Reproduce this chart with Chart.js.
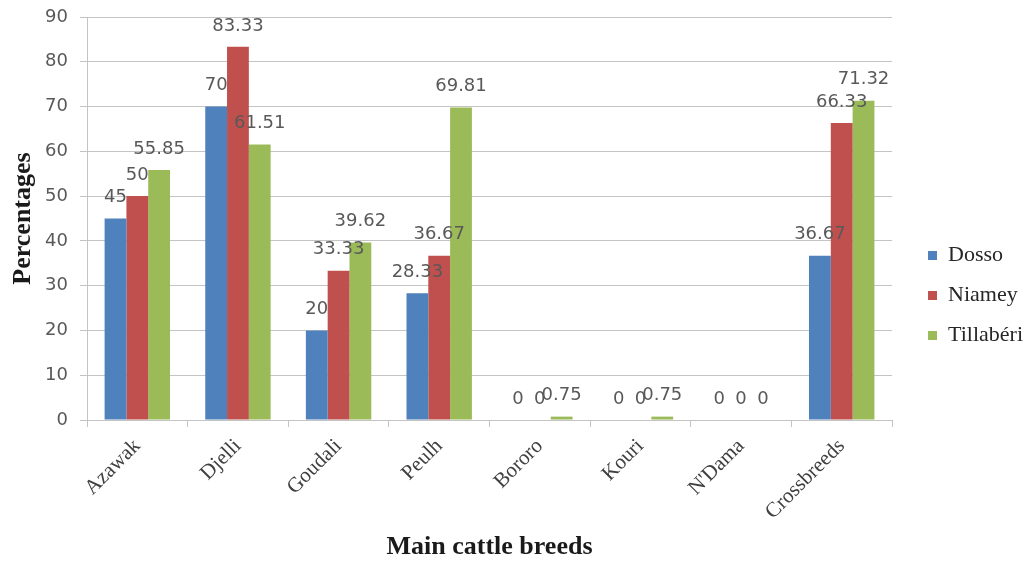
<!DOCTYPE html>
<html>
<head>
<meta charset="utf-8">
<script src="https://cdn.jsdelivr.net/npm/chart.js@4"></script>
<style>
  html, body { margin: 0; padding: 0; background: #ffffff; }
  #wrap { width: 1027px; height: 564px; position: relative; }
</style>
</head>
<body>
<div id="wrap"><canvas id="chart"></canvas></div>
<script>
// Breed shares (%) per region
const breeds = ["Azawak", "Djelli", "Goudali", "Peulh", "Bororo", "Kouri", "N'Dama", "Crossbreeds"];
const regions = ["Dosso", "Niamey", "Tillabéri"];
const dosso = [45, 70, 20, 28.33, 0, 0, 0, 36.67];
const niamey = [50, 83.33, 33.33, 36.67, 0, 0, 0, 66.33];
const tillaberi = [55.85, 61.51, 39.62, 69.81, 0.75, 0.75, 0, 71.32];
const yTicks = [0, 10, 20, 30, 40, 50, 60, 70, 80, 90];

const colors = ["#4F81BD", "#C0504D", "#9BBB59"];
const gridColor = "#c4c4c4";

// Value labels written above every bar
const valueLabels = {
  id: "valueLabels",
  afterDatasetsDraw(chart) {
    const ctx = chart.ctx;
    ctx.save();
    ctx.font = "18px 'DejaVu Sans'";
    ctx.fillStyle = "#595959";
    ctx.textAlign = "center";
    ctx.textBaseline = "middle";
    chart.data.datasets.forEach((ds, i) => {
      const meta = chart.getDatasetMeta(i);
      meta.data.forEach((bar, j) => {
        ctx.fillText(String(ds.data[j]), bar.x, bar.y - 21);
      });
    });
    ctx.restore();
  }
};

// Keep the legend a little away from the plot and nudged down
const legendPlacement = {
  id: "legendPlacement",
  afterLayout(chart) {
    const lg = chart.legend;
    if (!lg) return;
    const dx = chart.chartArea.right + 18 - lg.left;
    const dy = 5;
    lg.left += dx; lg.right += dx;
    lg.top += dy; lg.bottom += dy;
  }
};

new Chart(document.getElementById("chart"), {
  type: "bar",
  data: {
    labels: breeds,
    datasets: [
      { label: regions[0], data: dosso, backgroundColor: colors[0] },
      { label: regions[1], data: niamey, backgroundColor: colors[1] },
      { label: regions[2], data: tillaberi, backgroundColor: colors[2] }
    ]
  },
  options: {
    responsive: true,
    maintainAspectRatio: false,
    animation: false,
    datasets: { bar: { categoryPercentage: 0.65, barPercentage: 1.0 } },
    layout: { padding: { top: 17, left: 0, right: 12, bottom: 0 } },
    plugins: {
      tooltip: { enabled: false },
      legend: {
        position: "right",
        align: "center",
        labels: {
          boxWidth: 9,
          boxHeight: 9,
          padding: 18,
          color: "#262626",
          font: { family: "'Liberation Serif'", size: 22 }
        }
      }
    },
    scales: {
      x: {
        grid: { display: true, offset: true, drawOnChartArea: false, drawTicks: true, tickLength: 7, color: gridColor },
        border: { display: true, color: gridColor },
        ticks: {
          minRotation: 45, maxRotation: 45, padding: 7,
          color: "#404040",
          font: { family: "'Liberation Serif'", size: 21 }
        },
        title: {
          display: true,
          text: "Main cattle breeds",
          color: "#1a1a1a",
          font: { family: "'Liberation Serif'", size: 26, weight: "bold" },
          padding: { top: 0, bottom: 1 }
        },
        afterFit(scale) { scale.height = 144; }
      },
      y: {
        min: 0, max: 90,
        afterBuildTicks(scale) { scale.ticks = yTicks.map(v => ({ value: v })); },
        grid: { color: gridColor, tickLength: 7 },
        border: { display: true, color: gridColor },
        ticks: {
          padding: 12,
          color: "#595959",
          font: { family: "'DejaVu Sans'", size: 18 }
        },
        title: {
          display: true,
          text: "Percentages",
          color: "#1a1a1a",
          font: { family: "'Liberation Serif'", size: 26, weight: "bold" },
          padding: { top: 8, bottom: 0 }
        },
        afterFit(scale) {
          scale.width = 87;
          scale.paddingTop = 0;
          scale.paddingBottom = 0;
        }
      }
    }
  },
  plugins: [valueLabels, legendPlacement]
});
</script>
</body>
</html>
